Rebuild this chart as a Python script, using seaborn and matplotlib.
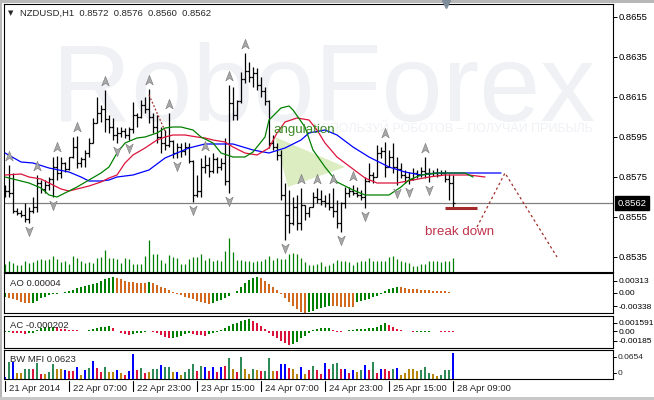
import numpy as np
import pandas as pd
import matplotlib
matplotlib.use("Agg")
import matplotlib.pyplot as plt
import matplotlib.transforms as mtransforms
from matplotlib.path import Path
from matplotlib.patches import Polygon, Rectangle
import seaborn as sns

# ---------------- data (NZDUSD, H1) ----------------
bar_open = [0.8570, 0.8568, 0.8567, 0.8558, 0.8557, 0.8556, 0.8554, 0.8558, 0.8560, 0.8572,
            0.8569, 0.8571, 0.8574, 0.8580, 0.8577, 0.8582, 0.8579, 0.8585, 0.8590, 0.8582,
            0.8584, 0.8587, 0.8592, 0.8602, 0.8607, 0.8609, 0.8604, 0.8600, 0.8596, 0.8597,
            0.8598, 0.8596, 0.8599, 0.8606, 0.8605, 0.8611, 0.8609, 0.8605, 0.8600, 0.8595,
            0.8592, 0.8591, 0.8593, 0.8587, 0.8590, 0.8588, 0.8590, 0.8583, 0.8566, 0.8568,
            0.8580, 0.8581, 0.8578, 0.8584, 0.8580, 0.8582, 0.8573, 0.8612, 0.8606, 0.8613,
            0.8624, 0.8628, 0.8625, 0.8627, 0.8621, 0.8618, 0.8613, 0.8592, 0.8590, 0.8586,
            0.8566, 0.8556, 0.8552, 0.8560, 0.8552, 0.8561, 0.8557, 0.8560, 0.8565, 0.8564,
            0.8563, 0.8562, 0.8560, 0.8558, 0.8552, 0.8562, 0.8567, 0.8568, 0.8567, 0.8566,
            0.8565, 0.8573, 0.8576, 0.8575, 0.8587, 0.8588, 0.8580, 0.8585, 0.8580, 0.8579,
            0.8576, 0.8575, 0.8574, 0.8577, 0.8576, 0.8578, 0.8577, 0.8577, 0.8577, 0.8576,
            0.8577, 0.8574, 0.8572]
bar_high = [0.8571, 0.8581, 0.8577, 0.85595, 0.85585, 0.8562, 0.8560, 0.8565, 0.8576, 0.85735,
            0.85735, 0.8575, 0.8585, 0.85855, 0.8585, 0.85825, 0.8585, 0.8595, 0.85955, 0.8585,
            0.85885, 0.85945, 0.86045, 0.8615, 0.8611, 0.86185, 0.8606, 0.86045, 0.8600, 0.8600,
            0.85995, 0.8600, 0.86125, 0.8607, 0.86135, 0.8615, 0.8619, 0.8607, 0.8606, 0.8600,
            0.85985, 0.8607, 0.85935, 0.8592, 0.8592, 0.85925, 0.8592, 0.85835, 0.8576, 0.85845,
            0.8586, 0.8585, 0.8587, 0.8585, 0.85845, 0.85945, 0.8621, 0.8620, 0.86135, 0.86275,
            0.8637, 0.86325, 0.8630, 0.86295, 0.8625, 0.8620, 0.86135, 0.8596, 0.8592, 0.85885,
            0.8572, 0.85685, 0.8565, 0.8566, 0.85695, 0.8561, 0.8560, 0.85675, 0.85695, 0.85685,
            0.8566, 0.8567, 0.85695, 0.85635, 0.85625, 0.8570, 0.8570, 0.8571, 0.8570, 0.85685,
            0.8575, 0.8582, 0.85775, 0.8591, 0.8590, 0.85925, 0.85885, 0.8592, 0.8585, 0.8582,
            0.85785, 0.85775, 0.85795, 0.85785, 0.8580, 0.8585, 0.85795, 0.85785, 0.85795, 0.85785,
            0.85785, 0.85765, 0.8576]
bar_low = [0.8565, 0.8565, 0.8557, 0.8556, 0.8555, 0.85525, 0.8552, 0.8557, 0.85575, 0.8567,
           0.8567, 0.85685, 0.8565, 0.85735, 0.85745, 0.85775, 0.85785, 0.85845, 0.85795, 0.8580,
           0.8580, 0.8585, 0.8592, 0.8602, 0.86025, 0.85975, 0.8597, 0.85935, 0.8592, 0.8595,
           0.85945, 0.85935, 0.8597, 0.8600, 0.86045, 0.8607, 0.8602, 0.8597, 0.8592, 0.8587,
           0.85885, 0.8590, 0.85845, 0.85845, 0.8585, 0.8586, 0.8582, 0.85625, 0.8565, 0.8565,
           0.8577, 0.8575, 0.8577, 0.8577, 0.85785, 0.8571, 0.8567, 0.86035, 0.86035, 0.8612,
           0.8622, 0.86225, 0.8620, 0.86185, 0.8615, 0.8611, 0.85895, 0.85885, 0.85835, 0.85635,
           0.85435, 0.8547, 0.8551, 0.85485, 0.85485, 0.85535, 0.8555, 0.8560, 0.8562, 0.8561,
           0.8560, 0.85585, 0.8555, 0.85495, 0.85475, 0.85595, 0.8565, 0.8566, 0.8565, 0.85635,
           0.85595, 0.85725, 0.8572, 0.8575, 0.85845, 0.8575, 0.8580, 0.8577, 0.8571, 0.85745,
           0.8572, 0.85715, 0.85735, 0.85745, 0.8575, 0.85745, 0.85725, 0.85755, 0.8575, 0.8576,
           0.85725, 0.85635, 0.8560]
bar_close = [0.8568, 0.8567, 0.8558, 0.8557, 0.8556, 0.8554, 0.8558, 0.8560, 0.8572, 0.8569,
             0.8571, 0.8574, 0.8580, 0.8577, 0.8582, 0.8579, 0.8585, 0.8590, 0.8582, 0.8584,
             0.8587, 0.8592, 0.8602, 0.8607, 0.8609, 0.8604, 0.8600, 0.8596, 0.8597, 0.8598,
             0.8596, 0.8599, 0.8606, 0.8605, 0.8611, 0.8609, 0.8605, 0.8600, 0.8595, 0.8592,
             0.8591, 0.8593, 0.8587, 0.8590, 0.8588, 0.8590, 0.8583, 0.8566, 0.8568, 0.8580,
             0.8581, 0.8578, 0.8584, 0.8580, 0.8582, 0.8573, 0.8612, 0.8606, 0.8613, 0.8624,
             0.8628, 0.8625, 0.8627, 0.8621, 0.8618, 0.8613, 0.8592, 0.8590, 0.8586, 0.8566,
             0.8556, 0.8552, 0.8560, 0.8552, 0.8561, 0.8557, 0.8560, 0.8565, 0.8564, 0.8563,
             0.8562, 0.8560, 0.8558, 0.8552, 0.8562, 0.8567, 0.8568, 0.8567, 0.8566, 0.8565,
             0.8573, 0.8576, 0.8575, 0.8587, 0.8588, 0.8580, 0.8585, 0.8580, 0.8579, 0.8576,
             0.8575, 0.8574, 0.8577, 0.8576, 0.8578, 0.8577, 0.8577, 0.8577, 0.8576, 0.8577,
             0.8574, 0.8572, 0.8562]
volume = [22, 32, 27, 19, 19, 32, 27, 30, 34, 38,
          34, 38, 47, 39, 29, 32, 24, 47, 42, 32,
          27, 29, 27, 42, 44, 65, 42, 42, 37, 27,
          42, 37, 24, 24, 24, 47, 95, 52, 52, 35,
          27, 50, 45, 42, 22, 22, 37, 44, 45, 52,
          34, 42, 32, 34, 32, 62, 100, 60, 35, 35,
          33, 33, 30, 31, 33, 38, 46, 35, 41, 38,
          38, 53, 55, 53, 41, 28, 20, 21, 23, 28,
          18, 21, 25, 35, 33, 33, 30, 21, 28, 33,
          31, 40, 33, 33, 33, 33, 45, 46, 38, 33,
          28, 26, 18, 18, 23, 23, 33, 33, 33, 28,
          31, 31, 40]

# Alligator lines (read at bar positions)
jaw_bar = [0, 4, 7, 11, 16, 19, 21, 24, 26, 28, 32, 36, 40, 46, 50, 57, 62, 66, 70, 74,
           76, 80, 83, 87, 91, 96, 100, 104, 108, 112, 120, 124]
jaw_price = [0.8587, 0.85825, 0.8582, 0.85795, 0.85775, 0.8575, 0.8573, 0.8573, 0.85735, 0.8575,
             0.8576, 0.85785, 0.85845, 0.85895, 0.85915, 0.85915, 0.85885, 0.8587, 0.85895, 0.85935,
             0.8597, 0.85985, 0.8596, 0.8590, 0.8585, 0.8580, 0.85775, 0.8576, 0.8577, 0.8577,
             0.8577, 0.8577]
teeth_bar = [0, 4, 6, 9, 11, 14, 16, 19, 21, 24, 26, 28, 30, 32, 35, 38, 40, 42, 45, 48,
             50, 52, 55, 57, 60, 63, 66, 68, 70, 73, 76, 78, 80, 83, 85, 88, 90, 93, 98, 102,
             106, 110, 116, 120]
teeth_price = [0.8576, 0.85765, 0.8575, 0.8574, 0.8572, 0.8569, 0.8568, 0.85695, 0.85705, 0.85725,
               0.85745, 0.8576, 0.8582, 0.8586, 0.85895, 0.85935, 0.8595, 0.8596, 0.8596, 0.8595,
               0.85945, 0.85935, 0.85925, 0.8590, 0.8587, 0.8586, 0.85895, 0.8597, 0.86025, 0.86045,
               0.86035, 0.85985, 0.8592, 0.8585, 0.8582, 0.85775, 0.85745, 0.8572, 0.8572, 0.85735,
               0.8575, 0.8576, 0.8576, 0.8575]
lips_bar = [0, 3, 6, 9, 11, 13, 15, 18, 21, 24, 26, 28, 30, 33, 35, 38, 40, 42, 44, 47,
            49, 52, 54, 57, 60, 62, 65, 66, 69, 71, 72, 75, 77, 80, 83, 87, 90, 96, 99, 101,
            104, 108, 115, 117]
lips_price = [0.8575, 0.85735, 0.8572, 0.85695, 0.8566, 0.8565, 0.8567, 0.8570, 0.85735, 0.8577,
              0.8580, 0.8587, 0.8592, 0.85945, 0.8595, 0.8597, 0.85995, 0.8600, 0.8600, 0.85985,
              0.8595, 0.8592, 0.8587, 0.8585, 0.8585, 0.85875, 0.8595, 0.86035, 0.86095, 0.86105,
              0.86085, 0.8600, 0.85885, 0.8580, 0.85725, 0.85685, 0.8566, 0.8566, 0.8570, 0.85735,
              0.8576, 0.8577, 0.8577, 0.8575]

fractal_up_bars = [1, 8, 13, 18, 25, 36, 41, 50, 56, 60, 74, 78, 82, 87, 95, 105]
fractal_down_bars = [6, 12, 28, 31, 43, 47, 56, 70, 84, 90, 98, 101, 106]

ao_values = [-0.00093, -0.00135, -0.00160, -0.00177, -0.00219, -0.00244, -0.00261, -0.00244, -0.00194, -0.00135,
             -0.00093, -0.00059, -0.00034, -0.00017, 0.00002, 0.00025, 0.00051, 0.00076, 0.00118, 0.00143,
             0.00177, 0.00202, 0.00228, 0.00261, 0.00312, 0.00354, 0.00388, 0.00413, 0.00379, 0.00346,
             0.00312, 0.00287, 0.00270, 0.00261, 0.00258, 0.00255, 0.00287, 0.00261, 0.00202, 0.00160,
             0.00118, 0.00076, 0.00025, -0.00025, -0.00059, -0.00093, -0.00126, -0.00160, -0.00194, -0.00228,
             -0.00261, -0.00278, -0.00244, -0.00211, -0.00177, -0.00135, -0.00076, -0.00008, 0.00059, 0.00143,
             0.00244, 0.00329, 0.00379, 0.00405, 0.00371, 0.00303, 0.00228, 0.00160, 0.00076, -0.00025,
             -0.00135, -0.00236, -0.00329, -0.00413, -0.00472, -0.00497, -0.00480, -0.00447, -0.00413, -0.00385,
             -0.00360, -0.00335, -0.00338, -0.00341, -0.00344, -0.00347, -0.00350, -0.00352, -0.00240, -0.00211,
             -0.00177, -0.00143, -0.00110, -0.00067, -0.00025, 0.00051, 0.00101, 0.00126, 0.00152, 0.00143,
             0.00118, 0.00110, 0.00101, 0.00093, 0.00076, 0.00070, 0.00067, 0.00059, 0.00055, 0.00051,
             0.00042, 0.00025, 0.00004]
ac_values = [-0.00025, -0.00019, -0.00031, -0.00038, -0.00044, -0.00050, -0.00044, -0.00031, 0.00019, 0.00050,
             0.00069, 0.00082, 0.00083, 0.00069, 0.00044, 0.00031, 0.00019, 0.00013, 0.00012, 0.00006,
             0.00005, 0.00013, 0.00031, 0.00056, 0.00069, 0.00082, 0.00094, 0.00056, 0.00006, -0.00031,
             -0.00056, -0.00069, -0.00056, -0.00044, -0.00031, -0.00019, 0.00006, -0.00013, -0.00044, -0.00075,
             -0.00107, -0.00138, -0.00125, -0.00107, -0.00088, -0.00063, -0.00044, -0.00056, -0.00069, -0.00082,
             -0.00088, -0.00056, -0.00031, -0.00013, 0.00019, 0.00050, 0.00094, 0.00132, 0.00157, 0.00188,
             0.00207, 0.00232, 0.00194, 0.00144, 0.00094, 0.00031, -0.00044, -0.00094, -0.00138, -0.00182,
             -0.00232, -0.00270, -0.00245, -0.00201, -0.00138, -0.00088, -0.00031, 0.00019, 0.00044, 0.00050,
             0.00056, 0.00063, 0.00019, -0.00013, -0.00019, 0.00006, 0.00012, 0.00019, 0.00031, 0.00038,
             0.00044, 0.00050, 0.00056, 0.00082, 0.00113, 0.00157, 0.00113, 0.00069, 0.00031, 0.00013,
             -0.00001, -0.00009, -0.00016, -0.00014, -0.00013, -0.00011, -0.00010, -0.00009, -0.00008, -0.00013,
             -0.00016, -0.00019, -0.000202]
mfi_values = [0.0064, 0.0424, 0.0424, 0.0160, 0.0160, 0.0248, 0.0248, 0.0240, 0.0384, 0.0128,
              0.0128, 0.0176, 0.0360, 0.0248, 0.0240, 0.0224, 0.0208, 0.0208, 0.0288, 0.0104,
              0.0224, 0.0272, 0.0440, 0.0272, 0.0184, 0.0288, 0.0176, 0.0184, 0.0224, 0.0144,
              0.0104, 0.0208, 0.0608, 0.0224, 0.0264, 0.0144, 0.0184, 0.0240, 0.0240, 0.0344,
              0.0288, 0.0288, 0.0168, 0.0184, 0.0104, 0.0168, 0.0240, 0.0360, 0.0200, 0.0328,
              0.0304, 0.0200, 0.0288, 0.0184, 0.0288, 0.0320, 0.0504, 0.0240, 0.0184, 0.0528,
              0.0240, 0.0120, 0.0240, 0.0224, 0.0200, 0.0200, 0.0504, 0.0200, 0.0208, 0.0360,
              0.0368, 0.0280, 0.0240, 0.0128, 0.0304, 0.0128, 0.0224, 0.0320, 0.0224, 0.0128,
              0.0384, 0.0240, 0.0368, 0.0400, 0.0240, 0.0240, 0.0160, 0.0224, 0.0184, 0.0224,
              0.0344, 0.0224, 0.0408, 0.0160, 0.0240, 0.0248, 0.0200, 0.0240, 0.0264, 0.0104,
              0.0160, 0.0248, 0.0248, 0.0200, 0.0224, 0.0304, 0.0144, 0.0128, 0.0080, 0.0104,
              0.0224, 0.0224, 0.0623]
# G = green (MFI up, vol up), F = fade, K = fake, S = squat
mfi_kind = ("KGKFFGGSGS" "FGGFFKSSKF" "KGKSSGFFKF" "SKKSGSFGGK" "GGFKFGGGSG"
            "KSKSKSGFSG" "FFGFSGGFSK" "KSFFKFSGSS" "KSGGSKSKFG" "KSGSKSSGKF"
            "FFFFGGGFFG" "GGK")

date_tick_bars = [0, 16, 32, 48, 64, 80, 96, 112]
date_tick_labels = ["21 Apr 2014", "22 Apr 07:00", "22 Apr 23:00", "23 Apr 15:00",
                    "24 Apr 07:00", "24 Apr 23:00", "25 Apr 15:00", "28 Apr 09:00"]
price_ticks = [0.8535, 0.8555, 0.8575, 0.8595, 0.8615, 0.8635, 0.8655]
price_tick_labels = ["0.8535", "0.8555", "0.8575", "0.8595", "0.8615", "0.8635", "0.8655"]
last_price = 0.8562
ao_ticks, ao_tick_labels = [0.00313, 0.0, -0.00338], ["0.00313", "0.00", "-0.00338"]
ac_ticks, ac_tick_labels = [0.001591, 0.0, -0.00185], ["0.001591", "0.00", "-0.00185"]
mfi_scale_labels = ["0.0654", "0"]

# annotations (bar index, price)
angulation_bar, angulation_price = [67.5, 85, 70.75], [0.8595, 0.8580, 0.8570]
projection_bar, projection_price = [118, 125, 138], [0.8550, 0.8577, 0.8535]
breakdown_bar, breakdown_price = [110, 118], 0.85596
old_dotted_bar, old_dotted_price = [36, 40.25], [0.8616, 0.8597]

# ---------------- style ----------------
sns.set_theme(style="white")
plt.rcParams["font.family"] = ["Liberation Sans", "DejaVu Sans"]
plt.rcParams["axes.linewidth"] = 0.8
FS = 6.8
FS_SUB = 6.0

W, H = 654, 400
fig = plt.figure(figsize=(W / 100, H / 100), dpi=100)
fig.patch.set_facecolor("white")


def px_axes(x0, y0, x1, y1):
    return fig.add_axes([x0 / W, 1 - y1 / H, (x1 - x0) / W, (y1 - y0) / H])


XL = (-0.375, 151.875)
ax = px_axes(3.5, 4.0, 612.5, 271.7)
axv = ax.twinx()          # volume scale (created first so ax keeps right-hand ticks below)
ax_ao = px_axes(3.5, 273.3, 612.5, 313.3)
ax_ac = px_axes(3.5, 315.7, 612.5, 348.3)
ax_mfi = px_axes(3.5, 350.0, 612.5, 379.3)

for a, fs in ((ax, FS), (ax_ao, FS_SUB), (ax_ac, FS_SUB), (ax_mfi, FS_SUB)):
    a.set_xlim(*XL)
    a.set_facecolor("white")
    for s in a.spines.values():
        s.set_color("black")
        s.set_linewidth(0.8)
    a.set_xticks([])
    a.yaxis.tick_right()
    a.tick_params(axis="y", which="both", direction="out", length=3, width=0.7,
                  pad=1.3, labelsize=fs, right=True, left=False,
                  labelright=True, labelleft=False, colors="black")

idx = np.arange(len(bar_close))

# ---------------- main chart ----------------
ax.set_ylim(0.852765, 0.86615)
ax.set_yticks(price_ticks)
ax.set_yticklabels(price_tick_labels)

# watermark
ax.text(0.526, 0.565, "RoboForex", transform=ax.transAxes, ha="center", va="baseline",
        fontsize=79, color="#EFF1F5", zorder=0)
ax.text(0.968, 0.522, "ИСПОЛЬЗУЙ РОБОТОВ – ПОЛУЧАЙ ПРИБЫЛЬ", transform=ax.transAxes,
        ha="right", va="baseline", fontsize=9, color="#EFF1F5", zorder=0)

ax.add_patch(Polygon(list(zip(angulation_bar, angulation_price)), closed=True,
                     facecolor="#DDEDC2", edgecolor="none", zorder=1))
ax.axhline(last_price, color="#808080", lw=0.9, zorder=1.5)

ax.vlines(idx, bar_low, bar_high, color="black", lw=0.9, zorder=3)
ax.hlines(bar_open, idx - 0.4, idx, color="black", lw=0.9, zorder=3)
ax.hlines(bar_close, idx, idx + 0.4, color="black", lw=0.9, zorder=3)

sns.lineplot(x=jaw_bar, y=jaw_price, ax=ax, color="#0000FF", lw=0.9, zorder=4,
             estimator=None, sort=False)
sns.lineplot(x=teeth_bar, y=teeth_price, ax=ax, color="#DC143C", lw=0.9, zorder=4,
             estimator=None, sort=False)
sns.lineplot(x=lips_bar, y=lips_price, ax=ax, color="#008000", lw=0.9, zorder=4,
             estimator=None, sort=False)

ax.plot(old_dotted_bar, old_dotted_price, color="#A0302A", lw=0.9, ls=(0, (1.5, 1.5)), zorder=4)
ax.plot(projection_bar, projection_price, color="#A0302A", lw=0.9, ls=(0, (2, 2.2)), zorder=4)
ax.hlines(breakdown_price, breakdown_bar[0], breakdown_bar[1], color="#A52A2A", lw=2.2, zorder=4)

arrow_up = Path([(0, 1), (0.72, -0.85), (0, -0.35), (-0.72, -0.85), (0, 1)],
                [Path.MOVETO, Path.LINETO, Path.LINETO, Path.LINETO, Path.CLOSEPOLY])
arrow_dn = Path([(0, -1), (0.72, 0.85), (0, 0.35), (-0.72, 0.85), (0, -1)],
                [Path.MOVETO, Path.LINETO, Path.LINETO, Path.LINETO, Path.CLOSEPOLY])
ax.scatter(fractal_up_bars, [bar_high[i] + 0.00045 for i in fractal_up_bars], marker=arrow_up,
           s=55, c="#A8A8A8", edgecolors="#767676", linewidths=0.4, zorder=5)
ax.scatter(fractal_down_bars, [bar_low[i] - 0.00042 for i in fractal_down_bars], marker=arrow_dn,
           s=55, c="#A8A8A8", edgecolors="#767676", linewidths=0.4, zorder=5)

ax.text(67, 0.85985, "angulation", color="#3A8A23", fontsize=9.6, ha="left", va="center", zorder=6)
ax.text(105, 0.85475, "break down", color="#C0344C", fontsize=9.6, ha="left", va="center", zorder=6)

# chart-shift marker on top edge
ax.plot([110.25], [1.0], marker="v", ms=5.5, color="#7F8C99",
        transform=mtransforms.blended_transform_factory(ax.transData, ax.transAxes),
        clip_on=False, zorder=7)

# current price box
ax.text(1.0 + 5 / 609, last_price, "0.8562", color="white", fontsize=FS, ha="left", va="center",
        transform=mtransforms.blended_transform_factory(ax.transAxes, ax.transData),
        bbox=dict(boxstyle="square,pad=0.3", fc="black", ec="black"), clip_on=False, zorder=8)

# volume (twin scale)
axv.set_xlim(*XL)
axv.vlines(idx, 0, volume, color="#008000", lw=0.9)
axv.set_ylim(0, 804)
axv.axis("off")

# ---------------- AO ----------------
ao_colors = ["#008000" if (k == 0 or ao_values[k] > ao_values[k - 1]) else "#D2691E" for k in idx]
ax_ao.bar(idx, ao_values, width=0.72, color=ao_colors, linewidth=0)
ax_ao.set_ylim(-0.00514, 0.00498)
ax_ao.set_yticks(ao_ticks)
ax_ao.set_yticklabels(ao_tick_labels)

# ---------------- AC ----------------
ac_colors = ["#008000" if (k == 0 or ac_values[k] > ac_values[k - 1]) else "#DC143C" for k in idx]
ax_ac.bar(idx, ac_values, width=0.72, color=ac_colors, linewidth=0)
ax_ac.set_ylim(-0.00325, 0.00288)
ax_ac.set_yticks(ac_ticks)
ax_ac.set_yticklabels(ac_tick_labels)

# ---------------- BW MFI ----------------
kind_color = {"G": "#2E8B57", "F": "#B8860B", "K": "#0000FF", "S": "#DC143C"}
mfi_colors = [kind_color[k] for k in mfi_kind]
mfi_widths = [0.28 if k == "K" else 0.72 for k in mfi_kind]
ax_mfi.bar(idx, mfi_values, width=mfi_widths, color=mfi_colors, linewidth=0)
ax_mfi.set_ylim(0, 0.0702)
ax_mfi.set_yticks([])
for lab, yf in zip(mfi_scale_labels, [0.761, 0.215]):
    ax_mfi.plot([1.0, 1.0 + 3 / 609], [yf, yf], color="black", lw=0.7,
                transform=ax_mfi.transAxes, clip_on=False)
    ax_mfi.text(1.0 + 5.5 / 609, yf, lab, transform=ax_mfi.transAxes, fontsize=FS_SUB,
                ha="left", va="center")

# date axis
trans = mtransforms.blended_transform_factory(ax_mfi.transData, ax_mfi.transAxes)
for b, lab in zip(date_tick_bars, date_tick_labels):
    ax_mfi.plot([b, b], [-0.06, -0.40], color="black", lw=0.8, transform=trans, clip_on=False)
    ax_mfi.text(b + 0.9, -0.31, lab, transform=trans, ha="left", va="center", fontsize=FS)

# ---------------- labels ----------------
fig.text(11 / W, 1 - 13 / H, "▼", fontsize=5, ha="center", va="center",
         family=["DejaVu Sans"])
fig.text(20 / W, 1 - 13 / H, "NZDUSD,H1  0.8572  0.8576  0.8560  0.8562",
         fontsize=FS, ha="left", va="center")
fig.text(9.5 / W, 1 - 283 / H, "AO 0.00004", fontsize=FS, ha="left", va="center")
fig.text(9.5 / W, 1 - 325 / H, "AC -0.000202", fontsize=FS, ha="left", va="center")
fig.text(9.5 / W, 1 - 359 / H, "BW MFI 0.0623", fontsize=FS, ha="left", va="center")

# window frame
fig.patches.append(Rectangle((0, 1 - 3 / H), 1, 3 / H, transform=fig.transFigure,
                             facecolor="#B8B8B8", edgecolor="none", zorder=-1))
fig.patches.append(Rectangle((0, 0), 2 / W, 1, transform=fig.transFigure,
                             facecolor="#B8B8B8", edgecolor="none", zorder=-1))
fig.patches.append(Rectangle((0, 0), 1, 3 / H, transform=fig.transFigure,
                             facecolor="#C8C8C8", edgecolor="none", zorder=-1))

fig.savefig("out.png", dpi=100)
